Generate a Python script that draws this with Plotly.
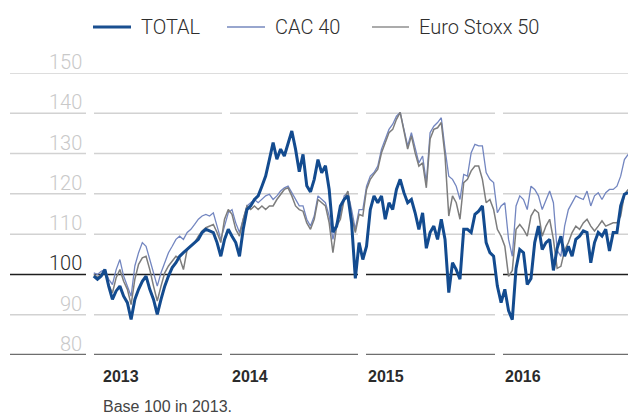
import pandas as pd
import plotly.graph_objects as go

# ---------------- data ----------------
dates = pd.date_range("2013-01-11", periods=144, freq="10D")

total = [99.6, 98.8, 99.6, 101.2, 97.1, 93.8, 95.9, 97.1, 94.6, 93.0, 88.8, 93.8, 96.3, 98.3, 99.6, 96.3, 93.8, 90.1, 93.8, 97.1, 99.6, 101.7, 102.9, 104.5,
         105.4, 106.2, 107.0, 107.9, 108.7, 110.4, 111.2, 110.8, 110.4, 107.9, 104.5, 108.7, 111.2, 109.5, 107.9, 104.5, 111.2, 116.1, 117.0, 118.6, 119.5, 121.9, 124.4, 128.5,
         132.7, 128.6, 131.1, 129.4, 132.7, 135.6, 131.1, 125.5, 129.8, 122.0, 120.5, 123.6, 128.5, 125.2, 127.0, 121.1, 110.5, 112.0, 117.0, 118.6, 119.5, 112.8, 99.0, 107.9,
         103.7, 107.0, 116.1, 119.5, 117.8, 119.5, 113.7, 117.8, 116.1, 121.1, 123.6, 120.3, 117.8, 118.6, 115.3, 111.2, 115.3, 106.5, 110.4, 112.0, 108.7, 113.7, 108.7, 95.5,
         102.9, 101.2, 98.8, 111.2, 111.2, 110.4, 114.9, 115.7, 117.0, 107.9, 105.4, 104.5, 97.1, 93.0, 96.3, 91.0, 88.8, 101.5, 106.2, 105.4, 97.5, 99.0, 107.9, 112.0,
         106.2, 107.9, 108.7, 101.0, 106.5, 109.5, 104.5, 107.0, 104.5, 108.7, 109.5, 110.8, 110.4, 102.9, 107.9, 110.4, 109.5, 111.2, 105.8, 110.4, 110.4, 117.0, 119.9, 120.3]

cac40 = [100.4, 100.0, 100.8, 101.2, 98.8, 97.5, 101.2, 103.7, 99.6, 97.1, 94.6, 102.1, 105.4, 107.9, 107.0, 103.7, 100.4, 97.1, 100.4, 102.9, 105.4, 107.0, 108.7, 109.5,
         108.7, 110.4, 111.2, 112.4, 113.7, 114.5, 114.9, 114.5, 115.3, 112.0, 108.7, 112.0, 115.3, 116.1, 112.8, 110.4, 113.7, 117.0, 117.8, 118.6, 117.8, 118.6, 119.5, 119.9,
         118.6, 119.5, 120.7, 121.5, 121.9, 120.3, 118.6, 117.0, 117.0, 113.7, 112.0, 114.5, 119.5, 118.6, 117.8, 114.5, 108.7, 112.8, 114.5, 119.5, 120.3, 116.1, 111.2, 116.1,
         116.1, 121.9, 124.4, 125.3, 126.9, 131.1, 133.6, 136.0, 137.3, 139.3, 140.2, 136.0, 131.9, 135.2, 131.1, 127.7, 129.4, 122.8, 135.2, 136.8, 137.7, 138.9, 131.1, 124.4,
         123.6, 121.9, 118.6, 124.8, 124.4, 130.2, 132.3, 131.9, 131.9, 125.3, 123.6, 122.8, 115.3, 117.0, 117.8, 108.7, 104.5, 117.0, 119.5, 118.6, 116.1, 121.9, 121.1, 119.5,
         116.1, 118.6, 120.7, 117.8, 106.0, 104.5, 112.0, 116.1, 117.8, 119.5, 119.0, 118.6, 120.7, 117.0, 119.5, 120.3, 118.6, 120.3, 121.1, 121.1, 121.9, 124.4, 128.5, 129.8]

stoxx50 = [100.0, 99.2, 100.0, 100.4, 97.5, 95.4, 99.2, 101.2, 98.3, 96.3, 92.5, 98.8, 102.5, 104.1, 104.5, 101.2, 97.1, 93.4, 97.1, 100.4, 102.1, 103.3, 104.5, 104.0,
           101.2, 106.2, 107.0, 107.9, 109.5, 110.8, 111.6, 112.0, 112.4, 110.4, 107.9, 113.7, 116.1, 114.9, 111.2, 109.5, 113.7, 117.0, 116.1, 117.0, 116.1, 117.0, 116.1, 117.0,
           117.0, 118.6, 119.9, 121.1, 121.5, 119.5, 117.0, 116.1, 115.7, 112.8, 111.2, 113.7, 118.6, 117.8, 117.0, 112.8, 105.4, 112.0, 113.7, 118.6, 120.7, 114.5, 110.4, 114.9,
           114.5, 121.1, 123.6, 124.9, 126.1, 130.2, 132.7, 135.2, 136.0, 138.5, 140.2, 135.2, 131.1, 134.4, 130.2, 126.9, 127.7, 121.5, 133.6, 136.0, 136.4, 137.7, 129.4, 114.5,
           119.5, 117.8, 113.7, 122.8, 123.6, 125.7, 126.9, 126.9, 123.6, 117.8, 118.6, 116.1, 111.2, 109.5, 107.0, 99.5, 101.0, 111.2, 112.4, 111.2, 109.5, 114.5, 116.1, 115.3,
           109.5, 112.0, 113.7, 108.7, 101.5, 102.0, 106.0, 107.9, 110.4, 112.0, 111.2, 112.8, 113.7, 112.0, 110.8, 112.0, 113.3, 112.0, 112.4, 112.8, 112.8, 114.5, 119.9, 121.1]

series_names = ["TOTAL", "CAC 40", "Euro Stoxx 50"]
y_ticks = [80, 90, 100, 110, 120, 130, 140, 150]
year_labels = ["2013", "2014", "2015", "2016"]
footnote = "Base 100 in 2013."

# ---------------- layout helpers ----------------
W, H = 628, 415
TOP, BOT = 73, 355          # pixel rows of 150 and 80


def px(x):
    return x / W


def py(y):
    return (BOT - y) / (BOT - TOP)


LIGHT = dict(family="Roboto, 'Liberation Sans', sans-serif", weight=300)
colors = {"TOTAL": "#134b8f", "CAC 40": "#7386c0", "Euro Stoxx 50": "#7d7d7d"}
legend_colors = {"TOTAL": "#1a4f90", "CAC 40": "#98a6ce", "Euro Stoxx 50": "#ababab"}

fig = go.Figure()
fig.add_trace(go.Scatter(x=dates, y=cac40, mode="lines", name=series_names[1],
                         line=dict(color=colors["CAC 40"], width=1.3)))
fig.add_trace(go.Scatter(x=dates, y=stoxx50, mode="lines", name=series_names[2],
                         line=dict(color=colors["Euro Stoxx 50"], width=1.5)))
fig.add_trace(go.Scatter(x=dates, y=total, mode="lines", name=series_names[0],
                         line=dict(color=colors["TOTAL"], width=3)))

# segmented horizontal rules
segments = [(10, 86), (94, 222), (230, 358), (366, 495), (503, 628)]
shapes = []
for v in y_ticks:
    segs = [(10, 628)] if v == 150 else segments
    if v == 100:
        col, w = "#1e1e1e", 1.4
    elif v == 80:
        col, w = "#6e6e6e", 2.6
    else:
        col, w = "#d2d2d2", 1.5
    for a, b in segs:
        shapes.append(dict(type="line", xref="paper", yref="y", x0=px(a), x1=px(b), y0=v, y1=v,
                           line=dict(color=col, width=w), layer="below"))

annotations = []
for v in y_ticks:
    annotations.append(dict(xref="paper", yref="y", x=px(84), y=v, text=str(v), showarrow=False,
                            xanchor="right", yanchor="middle", yshift=11,
                            font=dict(size=20, color="#2a2a2a" if v == 100 else "#c9c9c9", **LIGHT)))
for lbl, xpx in zip(year_labels, [101, 230, 366, 503]):
    annotations.append(dict(xref="paper", yref="paper", x=px(xpx), y=py(376), text=lbl, showarrow=False,
                            xanchor="left", yanchor="middle",
                            font=dict(size=16, color="#2b2b2b", family="'Liberation Sans', Arial, sans-serif", weight="bold")))
annotations.append(dict(xref="paper", yref="paper", x=px(101), y=py(406), text=footnote, showarrow=False,
                        xanchor="left", yanchor="middle",
                        font=dict(size=16, color="#444444", family="'Liberation Sans', Arial, sans-serif")))

# legend (drawn by hand to match the reference spacing)
LEG_Y = 27
legend_pos = [(93, 131, 139), (227, 265, 273), (372, 409, 417)]
legend_w = {"TOTAL": 3, "CAC 40": 2.2, "Euro Stoxx 50": 2.2}
for name, (l0, l1, tx) in zip(series_names, legend_pos):
    shapes.append(dict(type="line", xref="paper", yref="paper", x0=px(l0), x1=px(l1),
                       y0=py(LEG_Y), y1=py(LEG_Y), line=dict(color=legend_colors[name], width=legend_w[name])))
    annotations.append(dict(xref="paper", yref="paper", x=px(tx), y=py(LEG_Y), text=name, showarrow=False,
                            xanchor="left", yanchor="middle",
                            font=dict(size=20, color="#2e2e2e", **LIGHT)))

x_start = pd.Timestamp("2013-01-01") - pd.Timedelta(days=90 / 136.5 * 365.25)
x_end = pd.Timestamp("2013-01-01") + pd.Timedelta(days=(W - 90) / 136.5 * 365.25)

fig.update_layout(
    width=W, height=H,
    margin=dict(l=0, r=0, t=TOP, b=H - BOT, pad=0),
    paper_bgcolor="white", plot_bgcolor="white",
    xaxis=dict(visible=False, range=[x_start, x_end]),
    yaxis=dict(visible=False, range=[80, 150]),
    shapes=shapes, annotations=annotations,
    showlegend=False,
    hovermode=False,
)

fig.write_html("out.html", config={"displayModeBar": False, "staticPlot": True},
               post_script="document.body.style.margin='0';document.body.style.padding='0';")
